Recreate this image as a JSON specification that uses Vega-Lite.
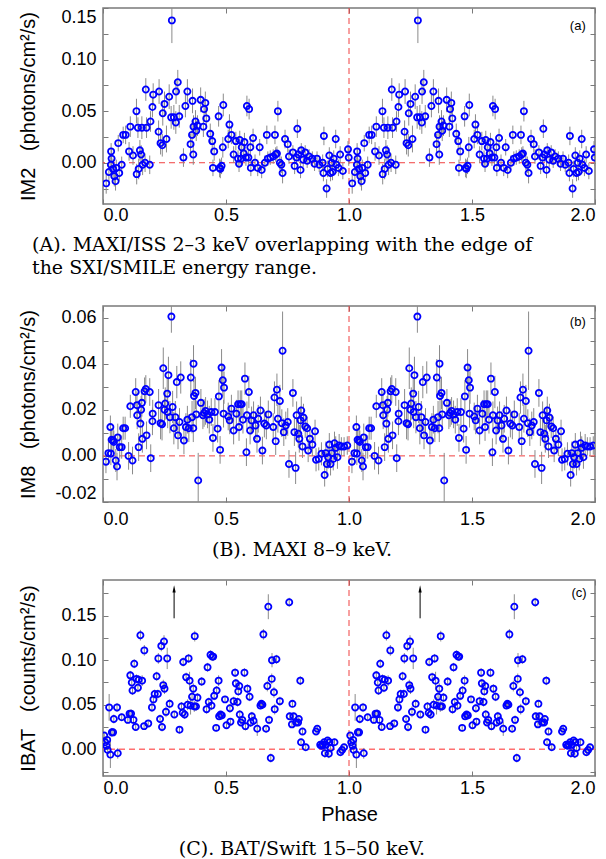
{
"$schema": "https://vega.github.io/schema/vega-lite/v6.json",
"padding": {"left": 18, "top": 6, "right": 5, "bottom": 0},
"background": "white",
"config": {
  "view": {"stroke": "#7a7a7a", "strokeWidth": 1.5},
  "axis": {"labelFont": "Liberation Sans", "labelFontSize": 18, "labelColor": "#000", "titleFont": "Liberation Sans", "titleFontSize": 20, "titleFontWeight": "normal", "titleColor": "#000", "grid": false, "domain": false, "tickColor": "#7a7a7a", "tickSize": -5, "tickWidth": 1},
  "title": {"font": "DejaVu Serif", "fontSize": 19, "fontWeight": "normal", "color": "#000"}
},
"datasets": {
"a": [
{"p":0.013,"v":-0.020,"e":0.010},{"p":0.024,"v":-0.009,"e":0.010},{"p":0.032,"v":-0.002,"e":0.009},{"p":0.035,"v":0.004,"e":0.009},{"p":0.033,"v":0.011,"e":0.008},{"p":0.041,"v":-0.006,"e":0.010},{"p":0.046,"v":-0.013,"e":0.010},{"p":0.051,"v":-0.018,"e":0.009},{"p":0.054,"v":-0.005,"e":0.008},{"p":0.066,"v":-0.010,"e":0.008},{"p":0.076,"v":-0.002,"e":0.008},{"p":0.062,"v":0.019,"e":0.008},{"p":0.082,"v":0.027,"e":0.008},{"p":0.092,"v":0.027,"e":0.009},{"p":0.111,"v":0.035,"e":0.010},{"p":0.106,"v":0.011,"e":0.009},{"p":0.122,"v":0.007,"e":0.009},{"p":0.136,"v":0.050,"e":0.012},{"p":0.137,"v":-0.011,"e":0.010},{"p":0.145,"v":-0.006,"e":0.010},{"p":0.142,"v":0.034,"e":0.010},{"p":0.150,"v":0.012,"e":0.010},{"p":0.155,"v":0.008,"e":0.009},{"p":0.158,"v":0.034,"e":0.011},{"p":0.161,"v":-0.002,"e":0.010},{"p":0.171,"v":0.000,"e":0.009},{"p":0.174,"v":0.071,"e":0.011},{"p":0.177,"v":0.034,"e":0.010},{"p":0.193,"v":0.040,"e":0.010},{"p":0.190,"v":-0.002,"e":0.009},{"p":0.201,"v":0.054,"e":0.010},{"p":0.204,"v":0.066,"e":0.011},{"p":0.228,"v":0.069,"e":0.012},{"p":0.226,"v":0.030,"e":0.011},{"p":0.234,"v":0.019,"e":0.011},{"p":0.243,"v":0.048,"e":0.012},{"p":0.241,"v":0.017,"e":0.011},{"p":0.250,"v":0.057,"e":0.012},{"p":0.258,"v":0.023,"e":0.013},{"p":0.269,"v":0.064,"e":0.012},{"p":0.277,"v":0.044,"e":0.011},{"p":0.280,"v":0.138,"e":0.022},{"p":0.288,"v":0.044,"e":0.012},{"p":0.296,"v":0.039,"e":0.011},{"p":0.297,"v":0.069,"e":0.012},{"p":0.304,"v":0.078,"e":0.012},{"p":0.310,"v":0.045,"e":0.011},{"p":0.327,"v":0.005,"e":0.009},{"p":0.335,"v":0.055,"e":0.011},{"p":0.343,"v":0.069,"e":0.012},{"p":0.356,"v":0.018,"e":0.010},{"p":0.362,"v":0.027,"e":0.011},{"p":0.364,"v":0.060,"e":0.012},{"p":0.367,"v":0.008,"e":0.010},{"p":0.368,"v":0.035,"e":0.011},{"p":0.376,"v":0.040,"e":0.011},{"p":0.379,"v":0.031,"e":0.010},{"p":0.384,"v":0.036,"e":0.010},{"p":0.397,"v":0.061,"e":0.012},{"p":0.408,"v":0.035,"e":0.010},{"p":0.411,"v":0.052,"e":0.011},{"p":0.416,"v":0.058,"e":0.011},{"p":0.420,"v":0.043,"e":0.010},{"p":0.436,"v":0.028,"e":0.010},{"p":0.444,"v":0.021,"e":0.010},{"p":0.447,"v":-0.005,"e":0.008},{"p":0.452,"v":0.011,"e":0.009},{"p":0.470,"v":0.045,"e":0.010},{"p":0.474,"v":-0.005,"e":0.009},{"p":0.477,"v":-0.006,"e":0.009},{"p":0.482,"v":-0.003,"e":0.008},{"p":0.487,"v":0.015,"e":0.010},{"p":0.489,"v":0.056,"e":0.011},{"p":0.509,"v":0.023,"e":0.009},{"p":0.514,"v":0.037,"e":0.010},{"p":0.522,"v":0.027,"e":0.009},{"p":0.531,"v":0.008,"e":0.008},{"p":0.540,"v":0.021,"e":0.009},{"p":0.549,"v":0.004,"e":0.008},{"p":0.553,"v":-0.001,"e":0.008},{"p":0.556,"v":0.022,"e":0.009},{"p":0.561,"v":0.004,"e":0.008},{"p":0.564,"v":0.015,"e":0.008},{"p":0.572,"v":0.009,"e":0.008},{"p":0.575,"v":0.020,"e":0.009},{"p":0.581,"v":0.005,"e":0.008},{"p":0.585,"v":0.055,"e":0.010},{"p":0.594,"v":0.052,"e":0.010},{"p":0.591,"v":0.005,"e":0.008},{"p":0.599,"v":0.015,"e":0.008},{"p":0.601,"v":-0.005,"e":0.008},{"p":0.610,"v":0.024,"e":0.009},{"p":0.618,"v":0.000,"e":0.008},{"p":0.629,"v":-0.005,"e":0.008},{"p":0.637,"v":0.015,"e":0.008},{"p":0.645,"v":-0.007,"e":0.008},{"p":0.658,"v":0.000,"e":0.007},{"p":0.666,"v":0.027,"e":0.009},{"p":0.670,"v":0.004,"e":0.007},{"p":0.680,"v":0.005,"e":0.007},{"p":0.692,"v":0.006,"e":0.007},{"p":0.699,"v":0.027,"e":0.009},{"p":0.702,"v":0.008,"e":0.007},{"p":0.707,"v":0.009,"e":0.007},{"p":0.711,"v":0.050,"e":0.010},{"p":0.719,"v":0.000,"e":0.007},{"p":0.725,"v":-0.002,"e":0.008},{"p":0.730,"v":-0.010,"e":0.010},{"p":0.740,"v":0.023,"e":0.009},{"p":0.751,"v":0.018,"e":0.008},{"p":0.756,"v":0.006,"e":0.007},{"p":0.772,"v":0.010,"e":0.007},{"p":0.779,"v":-0.003,"e":0.008},{"p":0.787,"v":0.005,"e":0.007},{"p":0.790,"v":0.033,"e":0.009},{"p":0.794,"v":0.008,"e":0.007},{"p":0.803,"v":-0.007,"e":0.008},{"p":0.806,"v":0.012,"e":0.007},{"p":0.814,"v":0.003,"e":0.007},{"p":0.822,"v":0.010,"e":0.007},{"p":0.830,"v":0.002,"e":0.007},{"p":0.838,"v":0.006,"e":0.007},{"p":0.851,"v":0.004,"e":0.007},{"p":0.860,"v":-0.001,"e":0.007},{"p":0.870,"v":0.004,"e":0.007},{"p":0.879,"v":-0.002,"e":0.007},{"p":0.893,"v":0.000,"e":0.008},{"p":0.898,"v":0.026,"e":0.009},{"p":0.896,"v":-0.010,"e":0.008},{"p":0.909,"v":-0.025,"e":0.009},{"p":0.913,"v":-0.006,"e":0.008},{"p":0.920,"v":0.007,"e":0.008},{"p":0.925,"v":-0.010,"e":0.008},{"p":0.930,"v":0.000,"e":0.008},{"p":0.933,"v":-0.009,"e":0.008},{"p":0.938,"v":0.004,"e":0.008},{"p":0.946,"v":0.023,"e":0.009},{"p":0.949,"v":-0.002,"e":0.008},{"p":0.957,"v":-0.005,"e":0.008},{"p":0.964,"v":0.008,"e":0.008},{"p":0.975,"v":-0.008,"e":0.008},{"p":0.996,"v":0.013,"e":0.008},{"p":0.999,"v":0.005,"e":0.008},
{"p":1.013,"v":-0.020,"e":0.010},{"p":1.024,"v":-0.009,"e":0.010},{"p":1.032,"v":-0.002,"e":0.009},{"p":1.035,"v":0.004,"e":0.009},{"p":1.033,"v":0.011,"e":0.008},{"p":1.041,"v":-0.006,"e":0.010},{"p":1.046,"v":-0.013,"e":0.010},{"p":1.051,"v":-0.018,"e":0.009},{"p":1.054,"v":-0.005,"e":0.008},{"p":1.066,"v":-0.010,"e":0.008},{"p":1.076,"v":-0.002,"e":0.008},{"p":1.062,"v":0.019,"e":0.008},{"p":1.082,"v":0.027,"e":0.008},{"p":1.092,"v":0.027,"e":0.009},{"p":1.111,"v":0.035,"e":0.010},{"p":1.106,"v":0.011,"e":0.009},{"p":1.122,"v":0.007,"e":0.009},{"p":1.136,"v":0.050,"e":0.012},{"p":1.137,"v":-0.011,"e":0.010},{"p":1.145,"v":-0.006,"e":0.010},{"p":1.142,"v":0.034,"e":0.010},{"p":1.150,"v":0.012,"e":0.010},{"p":1.155,"v":0.008,"e":0.009},{"p":1.158,"v":0.034,"e":0.011},{"p":1.161,"v":-0.002,"e":0.010},{"p":1.171,"v":0.000,"e":0.009},{"p":1.174,"v":0.071,"e":0.011},{"p":1.177,"v":0.034,"e":0.010},{"p":1.193,"v":0.040,"e":0.010},{"p":1.190,"v":-0.002,"e":0.009},{"p":1.201,"v":0.054,"e":0.010},{"p":1.204,"v":0.066,"e":0.011},{"p":1.228,"v":0.069,"e":0.012},{"p":1.226,"v":0.030,"e":0.011},{"p":1.234,"v":0.019,"e":0.011},{"p":1.243,"v":0.048,"e":0.012},{"p":1.241,"v":0.017,"e":0.011},{"p":1.250,"v":0.057,"e":0.012},{"p":1.258,"v":0.023,"e":0.013},{"p":1.269,"v":0.064,"e":0.012},{"p":1.277,"v":0.044,"e":0.011},{"p":1.280,"v":0.138,"e":0.022},{"p":1.288,"v":0.044,"e":0.012},{"p":1.296,"v":0.039,"e":0.011},{"p":1.297,"v":0.069,"e":0.012},{"p":1.304,"v":0.078,"e":0.012},{"p":1.310,"v":0.045,"e":0.011},{"p":1.327,"v":0.005,"e":0.009},{"p":1.335,"v":0.055,"e":0.011},{"p":1.343,"v":0.069,"e":0.012},{"p":1.356,"v":0.018,"e":0.010},{"p":1.362,"v":0.027,"e":0.011},{"p":1.364,"v":0.060,"e":0.012},{"p":1.367,"v":0.008,"e":0.010},{"p":1.368,"v":0.035,"e":0.011},{"p":1.376,"v":0.040,"e":0.011},{"p":1.379,"v":0.031,"e":0.010},{"p":1.384,"v":0.036,"e":0.010},{"p":1.397,"v":0.061,"e":0.012},{"p":1.408,"v":0.035,"e":0.010},{"p":1.411,"v":0.052,"e":0.011},{"p":1.416,"v":0.058,"e":0.011},{"p":1.420,"v":0.043,"e":0.010},{"p":1.436,"v":0.028,"e":0.010},{"p":1.444,"v":0.021,"e":0.010},{"p":1.447,"v":-0.005,"e":0.008},{"p":1.452,"v":0.011,"e":0.009},{"p":1.470,"v":0.045,"e":0.010},{"p":1.474,"v":-0.005,"e":0.009},{"p":1.477,"v":-0.006,"e":0.009},{"p":1.482,"v":-0.003,"e":0.008},{"p":1.487,"v":0.015,"e":0.010},{"p":1.489,"v":0.056,"e":0.011},{"p":1.509,"v":0.023,"e":0.009},{"p":1.514,"v":0.037,"e":0.010},{"p":1.522,"v":0.027,"e":0.009},{"p":1.531,"v":0.008,"e":0.008},{"p":1.540,"v":0.021,"e":0.009},{"p":1.549,"v":0.004,"e":0.008},{"p":1.553,"v":-0.001,"e":0.008},{"p":1.556,"v":0.022,"e":0.009},{"p":1.561,"v":0.004,"e":0.008},{"p":1.564,"v":0.015,"e":0.008},{"p":1.572,"v":0.009,"e":0.008},{"p":1.575,"v":0.020,"e":0.009},{"p":1.581,"v":0.005,"e":0.008},{"p":1.585,"v":0.055,"e":0.010},{"p":1.594,"v":0.052,"e":0.010},{"p":1.591,"v":0.005,"e":0.008},{"p":1.599,"v":0.015,"e":0.008},{"p":1.601,"v":-0.005,"e":0.008},{"p":1.610,"v":0.024,"e":0.009},{"p":1.618,"v":0.000,"e":0.008},{"p":1.629,"v":-0.005,"e":0.008},{"p":1.637,"v":0.015,"e":0.008},{"p":1.645,"v":-0.007,"e":0.008},{"p":1.658,"v":0.000,"e":0.007},{"p":1.666,"v":0.027,"e":0.009},{"p":1.670,"v":0.004,"e":0.007},{"p":1.680,"v":0.005,"e":0.007},{"p":1.692,"v":0.006,"e":0.007},{"p":1.699,"v":0.027,"e":0.009},{"p":1.702,"v":0.008,"e":0.007},{"p":1.707,"v":0.009,"e":0.007},{"p":1.711,"v":0.050,"e":0.010},{"p":1.719,"v":0.000,"e":0.007},{"p":1.725,"v":-0.002,"e":0.008},{"p":1.730,"v":-0.010,"e":0.010},{"p":1.740,"v":0.023,"e":0.009},{"p":1.751,"v":0.018,"e":0.008},{"p":1.756,"v":0.006,"e":0.007},{"p":1.772,"v":0.010,"e":0.007},{"p":1.779,"v":-0.003,"e":0.008},{"p":1.787,"v":0.005,"e":0.007},{"p":1.790,"v":0.033,"e":0.009},{"p":1.794,"v":0.008,"e":0.007},{"p":1.803,"v":-0.007,"e":0.008},{"p":1.806,"v":0.012,"e":0.007},{"p":1.814,"v":0.003,"e":0.007},{"p":1.822,"v":0.010,"e":0.007},{"p":1.830,"v":0.002,"e":0.007},{"p":1.838,"v":0.006,"e":0.007},{"p":1.851,"v":0.004,"e":0.007},{"p":1.860,"v":-0.001,"e":0.007},{"p":1.870,"v":0.004,"e":0.007},{"p":1.879,"v":-0.002,"e":0.007},{"p":1.893,"v":0.000,"e":0.008},{"p":1.898,"v":0.026,"e":0.009},{"p":1.896,"v":-0.010,"e":0.008},{"p":1.909,"v":-0.025,"e":0.009},{"p":1.913,"v":-0.006,"e":0.008},{"p":1.920,"v":0.007,"e":0.008},{"p":1.925,"v":-0.010,"e":0.008},{"p":1.930,"v":0.000,"e":0.008},{"p":1.933,"v":-0.009,"e":0.008},{"p":1.938,"v":0.004,"e":0.008},{"p":1.946,"v":0.023,"e":0.009},{"p":1.949,"v":-0.002,"e":0.008},{"p":1.957,"v":-0.005,"e":0.008},{"p":1.964,"v":0.008,"e":0.008},{"p":1.975,"v":-0.008,"e":0.008},{"p":1.996,"v":0.013,"e":0.008},{"p":1.999,"v":0.005,"e":0.008}
],
"b": [
{"p":0.012,"v":-0.0025,"e":0.005},{"p":0.022,"v":0.0012,"e":0.005},{"p":0.030,"v":0.0125,"e":0.005},{"p":0.032,"v":0.001,"e":0.005},{"p":0.035,"v":0.007,"e":0.005},{"p":0.041,"v":0.0067,"e":0.005},{"p":0.044,"v":0.006,"e":0.005},{"p":0.052,"v":-0.002,"e":0.005},{"p":0.057,"v":-0.0046,"e":0.006},{"p":0.060,"v":0.008,"e":0.006},{"p":0.068,"v":0.0038,"e":0.005},{"p":0.076,"v":0.0038,"e":0.005},{"p":0.082,"v":0.012,"e":0.005},{"p":0.090,"v":0.012,"e":0.005},{"p":0.104,"v":0.000,"e":0.006},{"p":0.111,"v":0.0215,"e":0.005},{"p":0.120,"v":-0.002,"e":0.006},{"p":0.133,"v":0.0277,"e":0.006},{"p":0.138,"v":0.022,"e":0.006},{"p":0.139,"v":0.0176,"e":0.006},{"p":0.145,"v":0.0038,"e":0.006},{"p":0.152,"v":0.014,"e":0.006},{"p":0.155,"v":0.020,"e":0.006},{"p":0.158,"v":0.023,"e":0.006},{"p":0.160,"v":0.0074,"e":0.006},{"p":0.169,"v":0.028,"e":0.006},{"p":0.174,"v":0.029,"e":0.006},{"p":0.177,"v":0.0089,"e":0.006},{"p":0.190,"v":0.0277,"e":0.006},{"p":0.194,"v":-0.001,"e":0.006},{"p":0.201,"v":0.015,"e":0.006},{"p":0.202,"v":0.0183,"e":0.006},{"p":0.226,"v":0.022,"e":0.007},{"p":0.234,"v":0.0142,"e":0.007},{"p":0.240,"v":0.0137,"e":0.007},{"p":0.245,"v":0.038,"e":0.009},{"p":0.250,"v":0.020,"e":0.007},{"p":0.253,"v":0.0227,"e":0.007},{"p":0.261,"v":0.027,"e":0.007},{"p":0.263,"v":0.019,"e":0.007},{"p":0.266,"v":0.035,"e":0.008},{"p":0.272,"v":0.0168,"e":0.007},{"p":0.278,"v":0.0604,"e":0.007},{"p":0.283,"v":0.0212,"e":0.007},{"p":0.288,"v":0.012,"e":0.007},{"p":0.294,"v":0.0168,"e":0.007},{"p":0.300,"v":0.032,"e":0.007},{"p":0.305,"v":0.0089,"e":0.006},{"p":0.311,"v":0.0147,"e":0.006},{"p":0.316,"v":0.034,"e":0.007},{"p":0.329,"v":0.0067,"e":0.006},{"p":0.337,"v":0.0125,"e":0.006},{"p":0.343,"v":0.0157,"e":0.006},{"p":0.349,"v":0.012,"e":0.006},{"p":0.357,"v":0.034,"e":0.008},{"p":0.362,"v":0.0168,"e":0.007},{"p":0.367,"v":0.012,"e":0.006},{"p":0.368,"v":0.040,"e":0.008},{"p":0.370,"v":0.026,"e":0.007},{"p":0.376,"v":0.0273,"e":0.007},{"p":0.379,"v":0.018,"e":0.006},{"p":0.387,"v":-0.0107,"e":0.012},{"p":0.398,"v":0.023,"e":0.006},{"p":0.406,"v":0.0176,"e":0.006},{"p":0.411,"v":0.0186,"e":0.006},{"p":0.417,"v":0.0195,"e":0.006},{"p":0.425,"v":0.018,"e":0.006},{"p":0.432,"v":0.0157,"e":0.006},{"p":0.440,"v":0.019,"e":0.006},{"p":0.447,"v":0.0078,"e":0.006},{"p":0.455,"v":0.019,"e":0.006},{"p":0.466,"v":0.0118,"e":0.006},{"p":0.471,"v":0.0258,"e":0.007},{"p":0.476,"v":0.0026,"e":0.006},{"p":0.482,"v":0.0383,"e":0.008},{"p":0.487,"v":0.0328,"e":0.007},{"p":0.492,"v":0.0296,"e":0.007},{"p":0.490,"v":0.0183,"e":0.006},{"p":0.509,"v":0.0171,"e":0.006},{"p":0.515,"v":0.0154,"e":0.006},{"p":0.522,"v":0.0205,"e":0.006},{"p":0.531,"v":0.011,"e":0.006},{"p":0.542,"v":0.0183,"e":0.006},{"p":0.549,"v":0.0224,"e":0.006},{"p":0.553,"v":0.0125,"e":0.006},{"p":0.558,"v":0.0224,"e":0.006},{"p":0.564,"v":0.0224,"e":0.006},{"p":0.569,"v":0.0157,"e":0.006},{"p":0.577,"v":0.0335,"e":0.007},{"p":0.585,"v":0.0176,"e":0.006},{"p":0.583,"v":0.0016,"e":0.006},{"p":0.593,"v":0.0277,"e":0.007},{"p":0.598,"v":0.011,"e":0.006},{"p":0.604,"v":0.0154,"e":0.006},{"p":0.612,"v":0.0176,"e":0.006},{"p":0.620,"v":0.0132,"e":0.006},{"p":0.626,"v":0.0074,"e":0.006},{"p":0.631,"v":0.0161,"e":0.006},{"p":0.640,"v":0.0197,"e":0.006},{"p":0.648,"v":0.0023,"e":0.006},{"p":0.656,"v":0.014,"e":0.006},{"p":0.664,"v":0.0132,"e":0.006},{"p":0.672,"v":0.018,"e":0.006},{"p":0.692,"v":0.0125,"e":0.006},{"p":0.697,"v":0.0253,"e":0.007},{"p":0.702,"v":0.0064,"e":0.006},{"p":0.707,"v":0.0287,"e":0.007},{"p":0.711,"v":0.0161,"e":0.006},{"p":0.719,"v":0.0238,"e":0.007},{"p":0.727,"v":0.0142,"e":0.006},{"p":0.730,"v":0.0456,"e":0.017},{"p":0.735,"v":0.0103,"e":0.006},{"p":0.743,"v":0.0132,"e":0.006},{"p":0.751,"v":0.0147,"e":0.006},{"p":0.756,"v":-0.0035,"e":0.006},{"p":0.772,"v":0.0273,"e":0.006},{"p":0.778,"v":0.0103,"e":0.006},{"p":0.783,"v":-0.0052,"e":0.007},{"p":0.787,"v":0.0176,"e":0.006},{"p":0.794,"v":0.0096,"e":0.006},{"p":0.798,"v":0.0074,"e":0.006},{"p":0.803,"v":0.0154,"e":0.006},{"p":0.806,"v":0.0197,"e":0.006},{"p":0.811,"v":0.0041,"e":0.005},{"p":0.815,"v":0.0166,"e":0.006},{"p":0.822,"v":0.0128,"e":0.005},{"p":0.830,"v":0.012,"e":0.005},{"p":0.834,"v":0.0023,"e":0.005},{"p":0.841,"v":0.0074,"e":0.005},{"p":0.851,"v":0.0049,"e":0.005},{"p":0.862,"v":0.0107,"e":0.005},{"p":0.866,"v":-0.0017,"e":0.005},{"p":0.877,"v":-0.0013,"e":0.005},{"p":0.888,"v":0.0009,"e":0.005},{"p":0.901,"v":-0.0083,"e":0.005},{"p":0.906,"v":0.0012,"e":0.005},{"p":0.910,"v":-0.0035,"e":0.005},{"p":0.915,"v":-0.0006,"e":0.005},{"p":0.920,"v":0.0049,"e":0.005},{"p":0.925,"v":-0.0035,"e":0.005},{"p":0.930,"v":0.0012,"e":0.005},{"p":0.936,"v":-0.0013,"e":0.005},{"p":0.941,"v":0.0055,"e":0.005},{"p":0.946,"v":0.0035,"e":0.005},{"p":0.953,"v":-0.0006,"e":0.005},{"p":0.960,"v":0.0045,"e":0.005},{"p":0.969,"v":0.0041,"e":0.004},{"p":0.980,"v":0.0041,"e":0.004},{"p":0.993,"v":0.0045,"e":0.004},
{"p":1.012,"v":-0.0025,"e":0.005},{"p":1.022,"v":0.0012,"e":0.005},{"p":1.030,"v":0.0125,"e":0.005},{"p":1.032,"v":0.001,"e":0.005},{"p":1.035,"v":0.007,"e":0.005},{"p":1.041,"v":0.0067,"e":0.005},{"p":1.044,"v":0.006,"e":0.005},{"p":1.052,"v":-0.002,"e":0.005},{"p":1.057,"v":-0.0046,"e":0.006},{"p":1.060,"v":0.008,"e":0.006},{"p":1.068,"v":0.0038,"e":0.005},{"p":1.076,"v":0.0038,"e":0.005},{"p":1.082,"v":0.012,"e":0.005},{"p":1.090,"v":0.012,"e":0.005},{"p":1.104,"v":0.000,"e":0.006},{"p":1.111,"v":0.0215,"e":0.005},{"p":1.120,"v":-0.002,"e":0.006},{"p":1.133,"v":0.0277,"e":0.006},{"p":1.138,"v":0.022,"e":0.006},{"p":1.139,"v":0.0176,"e":0.006},{"p":1.145,"v":0.0038,"e":0.006},{"p":1.152,"v":0.014,"e":0.006},{"p":1.155,"v":0.020,"e":0.006},{"p":1.158,"v":0.023,"e":0.006},{"p":1.160,"v":0.0074,"e":0.006},{"p":1.169,"v":0.028,"e":0.006},{"p":1.174,"v":0.029,"e":0.006},{"p":1.177,"v":0.0089,"e":0.006},{"p":1.190,"v":0.0277,"e":0.006},{"p":1.194,"v":-0.001,"e":0.006},{"p":1.201,"v":0.015,"e":0.006},{"p":1.202,"v":0.0183,"e":0.006},{"p":1.226,"v":0.022,"e":0.007},{"p":1.234,"v":0.0142,"e":0.007},{"p":1.240,"v":0.0137,"e":0.007},{"p":1.245,"v":0.038,"e":0.009},{"p":1.250,"v":0.020,"e":0.007},{"p":1.253,"v":0.0227,"e":0.007},{"p":1.261,"v":0.027,"e":0.007},{"p":1.263,"v":0.019,"e":0.007},{"p":1.266,"v":0.035,"e":0.008},{"p":1.272,"v":0.0168,"e":0.007},{"p":1.278,"v":0.0604,"e":0.007},{"p":1.283,"v":0.0212,"e":0.007},{"p":1.288,"v":0.012,"e":0.007},{"p":1.294,"v":0.0168,"e":0.007},{"p":1.300,"v":0.032,"e":0.007},{"p":1.305,"v":0.0089,"e":0.006},{"p":1.311,"v":0.0147,"e":0.006},{"p":1.316,"v":0.034,"e":0.007},{"p":1.329,"v":0.0067,"e":0.006},{"p":1.337,"v":0.0125,"e":0.006},{"p":1.343,"v":0.0157,"e":0.006},{"p":1.349,"v":0.012,"e":0.006},{"p":1.357,"v":0.034,"e":0.008},{"p":1.362,"v":0.0168,"e":0.007},{"p":1.367,"v":0.012,"e":0.006},{"p":1.368,"v":0.040,"e":0.008},{"p":1.370,"v":0.026,"e":0.007},{"p":1.376,"v":0.0273,"e":0.007},{"p":1.379,"v":0.018,"e":0.006},{"p":1.387,"v":-0.0107,"e":0.012},{"p":1.398,"v":0.023,"e":0.006},{"p":1.406,"v":0.0176,"e":0.006},{"p":1.411,"v":0.0186,"e":0.006},{"p":1.417,"v":0.0195,"e":0.006},{"p":1.425,"v":0.018,"e":0.006},{"p":1.432,"v":0.0157,"e":0.006},{"p":1.440,"v":0.019,"e":0.006},{"p":1.447,"v":0.0078,"e":0.006},{"p":1.455,"v":0.019,"e":0.006},{"p":1.466,"v":0.0118,"e":0.006},{"p":1.471,"v":0.0258,"e":0.007},{"p":1.476,"v":0.0026,"e":0.006},{"p":1.482,"v":0.0383,"e":0.008},{"p":1.487,"v":0.0328,"e":0.007},{"p":1.492,"v":0.0296,"e":0.007},{"p":1.490,"v":0.0183,"e":0.006},{"p":1.509,"v":0.0171,"e":0.006},{"p":1.515,"v":0.0154,"e":0.006},{"p":1.522,"v":0.0205,"e":0.006},{"p":1.531,"v":0.011,"e":0.006},{"p":1.542,"v":0.0183,"e":0.006},{"p":1.549,"v":0.0224,"e":0.006},{"p":1.553,"v":0.0125,"e":0.006},{"p":1.558,"v":0.0224,"e":0.006},{"p":1.564,"v":0.0224,"e":0.006},{"p":1.569,"v":0.0157,"e":0.006},{"p":1.577,"v":0.0335,"e":0.007},{"p":1.585,"v":0.0176,"e":0.006},{"p":1.583,"v":0.0016,"e":0.006},{"p":1.593,"v":0.0277,"e":0.007},{"p":1.598,"v":0.011,"e":0.006},{"p":1.604,"v":0.0154,"e":0.006},{"p":1.612,"v":0.0176,"e":0.006},{"p":1.620,"v":0.0132,"e":0.006},{"p":1.626,"v":0.0074,"e":0.006},{"p":1.631,"v":0.0161,"e":0.006},{"p":1.640,"v":0.0197,"e":0.006},{"p":1.648,"v":0.0023,"e":0.006},{"p":1.656,"v":0.014,"e":0.006},{"p":1.664,"v":0.0132,"e":0.006},{"p":1.672,"v":0.018,"e":0.006},{"p":1.692,"v":0.0125,"e":0.006},{"p":1.697,"v":0.0253,"e":0.007},{"p":1.702,"v":0.0064,"e":0.006},{"p":1.707,"v":0.0287,"e":0.007},{"p":1.711,"v":0.0161,"e":0.006},{"p":1.719,"v":0.0238,"e":0.007},{"p":1.727,"v":0.0142,"e":0.006},{"p":1.730,"v":0.0456,"e":0.017},{"p":1.735,"v":0.0103,"e":0.006},{"p":1.743,"v":0.0132,"e":0.006},{"p":1.751,"v":0.0147,"e":0.006},{"p":1.756,"v":-0.0035,"e":0.006},{"p":1.772,"v":0.0273,"e":0.006},{"p":1.778,"v":0.0103,"e":0.006},{"p":1.783,"v":-0.0052,"e":0.007},{"p":1.787,"v":0.0176,"e":0.006},{"p":1.794,"v":0.0096,"e":0.006},{"p":1.798,"v":0.0074,"e":0.006},{"p":1.803,"v":0.0154,"e":0.006},{"p":1.806,"v":0.0197,"e":0.006},{"p":1.811,"v":0.0041,"e":0.005},{"p":1.815,"v":0.0166,"e":0.006},{"p":1.822,"v":0.0128,"e":0.005},{"p":1.830,"v":0.012,"e":0.005},{"p":1.834,"v":0.0023,"e":0.005},{"p":1.841,"v":0.0074,"e":0.005},{"p":1.851,"v":0.0049,"e":0.005},{"p":1.862,"v":0.0107,"e":0.005},{"p":1.866,"v":-0.0017,"e":0.005},{"p":1.877,"v":-0.0013,"e":0.005},{"p":1.888,"v":0.0009,"e":0.005},{"p":1.901,"v":-0.0083,"e":0.005},{"p":1.906,"v":0.0012,"e":0.005},{"p":1.910,"v":-0.0035,"e":0.005},{"p":1.915,"v":-0.0006,"e":0.005},{"p":1.920,"v":0.0049,"e":0.005},{"p":1.925,"v":-0.0035,"e":0.005},{"p":1.930,"v":0.0012,"e":0.005},{"p":1.936,"v":-0.0013,"e":0.005},{"p":1.941,"v":0.0055,"e":0.005},{"p":1.946,"v":0.0035,"e":0.005},{"p":1.953,"v":-0.0006,"e":0.005},{"p":1.960,"v":0.0045,"e":0.005},{"p":1.969,"v":0.0041,"e":0.004},{"p":1.980,"v":0.0041,"e":0.004},{"p":1.993,"v":0.0045,"e":0.004}
],
"c": [
{"p":0.005,"v":0.0154,"e":0.004},{"p":0.009,"v":0.0079,"e":0.004},{"p":0.014,"v":0.0041,"e":0.004},{"p":0.017,"v":0.0105,"e":0.005},{"p":0.019,"v":-0.0008,"e":0.005},{"p":0.025,"v":0.047,"e":0.015},{"p":0.030,"v":-0.006,"e":0.015},{"p":0.036,"v":0.019,"e":0.005},{"p":0.041,"v":0.019,"e":0.004},{"p":0.044,"v":0.034,"e":0.005},{"p":0.057,"v":0.047,"e":0.005},{"p":0.060,"v":-0.0045,"e":0.006},{"p":0.076,"v":0.036,"e":0.004},{"p":0.101,"v":0.033,"e":0.004},{"p":0.108,"v":0.040,"e":0.004},{"p":0.111,"v":0.083,"e":0.005},{"p":0.114,"v":0.040,"e":0.005},{"p":0.117,"v":0.075,"e":0.005},{"p":0.120,"v":0.066,"e":0.005},{"p":0.124,"v":0.033,"e":0.005},{"p":0.127,"v":0.096,"e":0.005},{"p":0.133,"v":0.025,"e":0.004},{"p":0.136,"v":0.079,"e":0.005},{"p":0.142,"v":0.069,"e":0.005},{"p":0.145,"v":0.078,"e":0.005},{"p":0.152,"v":0.128,"e":0.006},{"p":0.159,"v":0.077,"e":0.006},{"p":0.168,"v":0.111,"e":0.006},{"p":0.167,"v":0.026,"e":0.004},{"p":0.184,"v":0.029,"e":0.004},{"p":0.199,"v":0.047,"e":0.005},{"p":0.205,"v":0.056,"e":0.005},{"p":0.210,"v":0.062,"e":0.005},{"p":0.218,"v":0.082,"e":0.005},{"p":0.223,"v":0.062,"e":0.005},{"p":0.225,"v":0.102,"e":0.006},{"p":0.232,"v":0.034,"e":0.005},{"p":0.237,"v":0.116,"e":0.006},{"p":0.240,"v":0.025,"e":0.005},{"p":0.245,"v":0.072,"e":0.006},{"p":0.248,"v":0.121,"e":0.007},{"p":0.250,"v":0.068,"e":0.006},{"p":0.256,"v":0.042,"e":0.006},{"p":0.261,"v":0.102,"e":0.012},{"p":0.271,"v":0.051,"e":0.005},{"p":0.290,"v":0.039,"e":0.004},{"p":0.311,"v":0.022,"e":0.004},{"p":0.319,"v":0.048,"e":0.005},{"p":0.324,"v":0.041,"e":0.005},{"p":0.326,"v":0.098,"e":0.005},{"p":0.332,"v":0.039,"e":0.005},{"p":0.338,"v":0.081,"e":0.005},{"p":0.344,"v":0.050,"e":0.006},{"p":0.348,"v":0.102,"e":0.005},{"p":0.352,"v":0.077,"e":0.010},{"p":0.356,"v":0.049,"e":0.010},{"p":0.362,"v":0.059,"e":0.006},{"p":0.367,"v":0.068,"e":0.006},{"p":0.371,"v":0.048,"e":0.006},{"p":0.373,"v":0.127,"e":0.006},{"p":0.378,"v":0.048,"e":0.005},{"p":0.384,"v":0.058,"e":0.005},{"p":0.401,"v":0.076,"e":0.005},{"p":0.421,"v":0.045,"e":0.005},{"p":0.425,"v":0.092,"e":0.005},{"p":0.430,"v":0.053,"e":0.005},{"p":0.437,"v":0.106,"e":0.005},{"p":0.441,"v":0.049,"e":0.005},{"p":0.444,"v":0.104,"e":0.005},{"p":0.448,"v":0.104,"e":0.005},{"p":0.452,"v":0.060,"e":0.005},{"p":0.460,"v":0.024,"e":0.004},{"p":0.462,"v":0.066,"e":0.005},{"p":0.470,"v":0.077,"e":0.006},{"p":0.472,"v":0.037,"e":0.004},{"p":0.478,"v":0.039,"e":0.004},{"p":0.483,"v":0.038,"e":0.004},{"p":0.496,"v":0.056,"e":0.004},{"p":0.502,"v":0.027,"e":0.004},{"p":0.516,"v":0.046,"e":0.005},{"p":0.518,"v":0.031,"e":0.004},{"p":0.531,"v":0.054,"e":0.005},{"p":0.537,"v":0.086,"e":0.005},{"p":0.540,"v":0.074,"e":0.005},{"p":0.547,"v":0.053,"e":0.005},{"p":0.550,"v":0.065,"e":0.005},{"p":0.554,"v":0.071,"e":0.005},{"p":0.556,"v":0.039,"e":0.005},{"p":0.561,"v":0.030,"e":0.004},{"p":0.566,"v":0.033,"e":0.004},{"p":0.575,"v":0.086,"e":0.005},{"p":0.579,"v":0.026,"e":0.005},{"p":0.587,"v":0.068,"e":0.005},{"p":0.596,"v":0.059,"e":0.005},{"p":0.600,"v":0.030,"e":0.005},{"p":0.605,"v":0.037,"e":0.005},{"p":0.612,"v":0.032,"e":0.005},{"p":0.627,"v":0.023,"e":0.008},{"p":0.640,"v":0.049,"e":0.004},{"p":0.644,"v":0.051,"e":0.004},{"p":0.648,"v":0.050,"e":0.004},{"p":0.652,"v":0.129,"e":0.006},{"p":0.663,"v":0.023,"e":0.004},{"p":0.668,"v":0.071,"e":0.006},{"p":0.672,"v":0.160,"e":0.014},{"p":0.675,"v":0.033,"e":0.005},{"p":0.682,"v":-0.0098,"e":0.005},{"p":0.686,"v":0.079,"e":0.006},{"p":0.687,"v":0.100,"e":0.008},{"p":0.695,"v":0.064,"e":0.006},{"p":0.698,"v":0.045,"e":0.006},{"p":0.705,"v":0.101,"e":0.005},{"p":0.719,"v":0.054,"e":0.005},{"p":0.757,"v":0.165,"e":0.005},{"p":0.759,"v":0.037,"e":0.004},{"p":0.770,"v":0.051,"e":0.004},{"p":0.768,"v":0.028,"e":0.004},{"p":0.775,"v":0.037,"e":0.004},{"p":0.785,"v":0.030,"e":0.004},{"p":0.793,"v":0.030,"e":0.004},{"p":0.796,"v":0.034,"e":0.004},{"p":0.802,"v":0.077,"e":0.005},{"p":0.805,"v":0.0079,"e":0.004},{"p":0.811,"v":0.020,"e":0.004},{"p":0.824,"v":0.0023,"e":0.004},{"p":0.866,"v":0.020,"e":0.004},{"p":0.871,"v":0.023,"e":0.004},{"p":0.883,"v":0.005,"e":0.004},{"p":0.889,"v":0.004,"e":0.004},{"p":0.894,"v":0.005,"e":0.004},{"p":0.899,"v":0.0079,"e":0.004},{"p":0.902,"v":-0.0045,"e":0.005},{"p":0.906,"v":0.005,"e":0.004},{"p":0.913,"v":0.0098,"e":0.004},{"p":0.918,"v":-0.005,"e":0.005},{"p":0.921,"v":0.0079,"e":0.004},{"p":0.925,"v":0.0015,"e":0.004},{"p":0.941,"v":0.0079,"e":0.004},{"p":0.965,"v":-0.0034,"e":0.004},{"p":0.972,"v":-0.0008,"e":0.004},{"p":0.980,"v":0.0023,"e":0.004},
{"p":1.005,"v":0.0154,"e":0.004},{"p":1.009,"v":0.0079,"e":0.004},{"p":1.014,"v":0.0041,"e":0.004},{"p":1.017,"v":0.0105,"e":0.005},{"p":1.019,"v":-0.0008,"e":0.005},{"p":1.025,"v":0.047,"e":0.015},{"p":1.030,"v":-0.006,"e":0.015},{"p":1.036,"v":0.019,"e":0.005},{"p":1.041,"v":0.019,"e":0.004},{"p":1.044,"v":0.034,"e":0.005},{"p":1.057,"v":0.047,"e":0.005},{"p":1.060,"v":-0.0045,"e":0.006},{"p":1.076,"v":0.036,"e":0.004},{"p":1.101,"v":0.033,"e":0.004},{"p":1.108,"v":0.040,"e":0.004},{"p":1.111,"v":0.083,"e":0.005},{"p":1.114,"v":0.040,"e":0.005},{"p":1.117,"v":0.075,"e":0.005},{"p":1.120,"v":0.066,"e":0.005},{"p":1.124,"v":0.033,"e":0.005},{"p":1.127,"v":0.096,"e":0.005},{"p":1.133,"v":0.025,"e":0.004},{"p":1.136,"v":0.079,"e":0.005},{"p":1.142,"v":0.069,"e":0.005},{"p":1.145,"v":0.078,"e":0.005},{"p":1.152,"v":0.128,"e":0.006},{"p":1.159,"v":0.077,"e":0.006},{"p":1.168,"v":0.111,"e":0.006},{"p":1.167,"v":0.026,"e":0.004},{"p":1.184,"v":0.029,"e":0.004},{"p":1.199,"v":0.047,"e":0.005},{"p":1.205,"v":0.056,"e":0.005},{"p":1.210,"v":0.062,"e":0.005},{"p":1.218,"v":0.082,"e":0.005},{"p":1.223,"v":0.062,"e":0.005},{"p":1.225,"v":0.102,"e":0.006},{"p":1.232,"v":0.034,"e":0.005},{"p":1.237,"v":0.116,"e":0.006},{"p":1.240,"v":0.025,"e":0.005},{"p":1.245,"v":0.072,"e":0.006},{"p":1.248,"v":0.121,"e":0.007},{"p":1.250,"v":0.068,"e":0.006},{"p":1.256,"v":0.042,"e":0.006},{"p":1.261,"v":0.102,"e":0.012},{"p":1.271,"v":0.051,"e":0.005},{"p":1.290,"v":0.039,"e":0.004},{"p":1.311,"v":0.022,"e":0.004},{"p":1.319,"v":0.048,"e":0.005},{"p":1.324,"v":0.041,"e":0.005},{"p":1.326,"v":0.098,"e":0.005},{"p":1.332,"v":0.039,"e":0.005},{"p":1.338,"v":0.081,"e":0.005},{"p":1.344,"v":0.050,"e":0.006},{"p":1.348,"v":0.102,"e":0.005},{"p":1.352,"v":0.077,"e":0.010},{"p":1.356,"v":0.049,"e":0.010},{"p":1.362,"v":0.059,"e":0.006},{"p":1.367,"v":0.068,"e":0.006},{"p":1.371,"v":0.048,"e":0.006},{"p":1.373,"v":0.127,"e":0.006},{"p":1.378,"v":0.048,"e":0.005},{"p":1.384,"v":0.058,"e":0.005},{"p":1.401,"v":0.076,"e":0.005},{"p":1.421,"v":0.045,"e":0.005},{"p":1.425,"v":0.092,"e":0.005},{"p":1.430,"v":0.053,"e":0.005},{"p":1.437,"v":0.106,"e":0.005},{"p":1.441,"v":0.049,"e":0.005},{"p":1.444,"v":0.104,"e":0.005},{"p":1.448,"v":0.104,"e":0.005},{"p":1.452,"v":0.060,"e":0.005},{"p":1.460,"v":0.024,"e":0.004},{"p":1.462,"v":0.066,"e":0.005},{"p":1.470,"v":0.077,"e":0.006},{"p":1.472,"v":0.037,"e":0.004},{"p":1.478,"v":0.039,"e":0.004},{"p":1.483,"v":0.038,"e":0.004},{"p":1.496,"v":0.056,"e":0.004},{"p":1.502,"v":0.027,"e":0.004},{"p":1.516,"v":0.046,"e":0.005},{"p":1.518,"v":0.031,"e":0.004},{"p":1.531,"v":0.054,"e":0.005},{"p":1.537,"v":0.086,"e":0.005},{"p":1.540,"v":0.074,"e":0.005},{"p":1.547,"v":0.053,"e":0.005},{"p":1.550,"v":0.065,"e":0.005},{"p":1.554,"v":0.071,"e":0.005},{"p":1.556,"v":0.039,"e":0.005},{"p":1.561,"v":0.030,"e":0.004},{"p":1.566,"v":0.033,"e":0.004},{"p":1.575,"v":0.086,"e":0.005},{"p":1.579,"v":0.026,"e":0.005},{"p":1.587,"v":0.068,"e":0.005},{"p":1.596,"v":0.059,"e":0.005},{"p":1.600,"v":0.030,"e":0.005},{"p":1.605,"v":0.037,"e":0.005},{"p":1.612,"v":0.032,"e":0.005},{"p":1.627,"v":0.023,"e":0.008},{"p":1.640,"v":0.049,"e":0.004},{"p":1.644,"v":0.051,"e":0.004},{"p":1.648,"v":0.050,"e":0.004},{"p":1.652,"v":0.129,"e":0.006},{"p":1.663,"v":0.023,"e":0.004},{"p":1.668,"v":0.071,"e":0.006},{"p":1.672,"v":0.160,"e":0.014},{"p":1.675,"v":0.033,"e":0.005},{"p":1.682,"v":-0.0098,"e":0.005},{"p":1.686,"v":0.079,"e":0.006},{"p":1.687,"v":0.100,"e":0.008},{"p":1.695,"v":0.064,"e":0.006},{"p":1.698,"v":0.045,"e":0.006},{"p":1.705,"v":0.101,"e":0.005},{"p":1.719,"v":0.054,"e":0.005},{"p":1.757,"v":0.165,"e":0.005},{"p":1.759,"v":0.037,"e":0.004},{"p":1.770,"v":0.051,"e":0.004},{"p":1.768,"v":0.028,"e":0.004},{"p":1.775,"v":0.037,"e":0.004},{"p":1.785,"v":0.030,"e":0.004},{"p":1.793,"v":0.030,"e":0.004},{"p":1.796,"v":0.034,"e":0.004},{"p":1.802,"v":0.077,"e":0.005},{"p":1.805,"v":0.0079,"e":0.004},{"p":1.811,"v":0.020,"e":0.004},{"p":1.824,"v":0.0023,"e":0.004},{"p":1.866,"v":0.020,"e":0.004},{"p":1.871,"v":0.023,"e":0.004},{"p":1.883,"v":0.005,"e":0.004},{"p":1.889,"v":0.004,"e":0.004},{"p":1.894,"v":0.005,"e":0.004},{"p":1.899,"v":0.0079,"e":0.004},{"p":1.902,"v":-0.0045,"e":0.005},{"p":1.906,"v":0.005,"e":0.004},{"p":1.913,"v":0.0098,"e":0.004},{"p":1.918,"v":-0.005,"e":0.005},{"p":1.921,"v":0.0079,"e":0.004},{"p":1.925,"v":0.0015,"e":0.004},{"p":1.941,"v":0.0079,"e":0.004},{"p":1.965,"v":-0.0034,"e":0.004},{"p":1.972,"v":-0.0008,"e":0.004},{"p":1.980,"v":0.0023,"e":0.004}
]
},
"spacing": 25,
"vconcat": [
{
  "width": 492, "height": 196,
  "title": {"text": ["(A).  MAXI/ISS 2–3 keV overlapping with the edge of", "the SXI/SMILE energy range."], "orient": "bottom", "anchor": "start", "align": "left", "frame": "group", "dx": -71, "lineHeight": 23, "offset": 12},
  "resolve": {"axis": {"x": "independent", "y": "independent"}},
  "layer": [
    {"data": {"values": [{"p": 1}]}, "mark": {"type": "rule", "color": "#f04040", "strokeDash": [6, 4], "strokeWidth": 1},
     "encoding": {"x": {"field": "p", "type": "quantitative", "scale": {"domain": [0, 2], "nice": false, "zero": false},
                        "axis": {"orient": "top", "values": [0, 0.5, 1, 1.5, 2], "labels": false, "title": null}}}},
    {"data": {"values": [{"v": 0}]}, "mark": {"type": "rule", "color": "#f04040", "strokeDash": [6, 4], "strokeWidth": 1},
     "encoding": {"y": {"field": "v", "type": "quantitative", "scale": {"domain": [-0.04, 0.15], "nice": false, "zero": false},
                        "axis": {"orient": "right", "values": [-0.025, 0, 0.025, 0.05, 0.075, 0.1, 0.125, 0.15], "labels": false, "title": null}}}},
    {"data": {"name": "a"}, "mark": {"type": "errorbar", "color": "#8a8a8a", "thickness": 1, "clip": true},
     "encoding": {"x": {"field": "p", "type": "quantitative", "scale": {"domain": [0, 2], "nice": false, "zero": false}, "axis": null},
                  "y": {"field": "v", "type": "quantitative", "scale": {"domain": [-0.04, 0.15], "nice": false, "zero": false}, "axis": null},
                  "yError": {"field": "e"}}},
    {"data": {"name": "a"}, "mark": {"type": "point", "filled": false, "color": "#0000ff", "strokeWidth": 1.8, "size": 38, "opacity": 1, "clip": true},
     "encoding": {"x": {"field": "p", "type": "quantitative", "scale": {"domain": [0, 2], "nice": false, "zero": false},
                        "axis": {"values": [0, 0.5, 1, 1.5, 2], "format": ".1f", "title": null, "labelFlush": true, "labelPadding": 7}},
                  "y": {"field": "v", "type": "quantitative", "scale": {"domain": [-0.04, 0.15], "nice": false, "zero": false},
                        "axis": {"values": [-0.025, 0, 0.025, 0.05, 0.075, 0.1, 0.125, 0.15], "labelExpr": "abs(datum.value*20 - round(datum.value*20)) < 0.000001 ? format(datum.value, '.2f') : ''", "labelFlush": true, "labelPadding": 12, "titlePadding": 22, "title": "IM2\u00a0\u00a0\u00a0(photons/cm²/s)"}}}},
    {"data": {"values": [{"p": 1.93, "v": 0.133, "t": "(a)"}]}, "mark": {"type": "text", "font": "Liberation Sans", "fontSize": 13, "color": "#000"},
     "encoding": {"x": {"field": "p", "type": "quantitative", "scale": {"domain": [0, 2], "nice": false, "zero": false}, "axis": null},
                  "y": {"field": "v", "type": "quantitative", "scale": {"domain": [-0.04, 0.15], "nice": false, "zero": false}, "axis": null},
                  "text": {"field": "t"}}}
  ]
},
{
  "spacing": 17,
  "vconcat": [
  {
    "width": 492, "height": 196,
    "title": {"text": "(B).  MAXI 8–9 keV.", "orient": "bottom", "anchor": "middle", "frame": "group", "dx": -47, "offset": 13},
    "resolve": {"axis": {"x": "independent", "y": "independent"}},
    "layer": [
      {"data": {"values": [{"p": 1}]}, "mark": {"type": "rule", "color": "#f04040", "strokeDash": [6, 4], "strokeWidth": 1},
       "encoding": {"x": {"field": "p", "type": "quantitative", "scale": {"domain": [0, 2], "nice": false, "zero": false},
                          "axis": {"orient": "top", "values": [0, 0.5, 1, 1.5, 2], "labels": false, "title": null}}}},
      {"data": {"values": [{"v": 0}]}, "mark": {"type": "rule", "color": "#f04040", "strokeDash": [6, 4], "strokeWidth": 1},
       "encoding": {"y": {"field": "v", "type": "quantitative", "scale": {"domain": [-0.02, 0.065], "nice": false, "zero": false},
                          "axis": {"orient": "right", "values": [-0.02, -0.01, 0, 0.01, 0.02, 0.03, 0.04, 0.05, 0.06], "labels": false, "title": null}}}},
      {"data": {"name": "b"}, "mark": {"type": "errorbar", "color": "#8a8a8a", "thickness": 1, "clip": true},
       "encoding": {"x": {"field": "p", "type": "quantitative", "scale": {"domain": [0, 2], "nice": false, "zero": false}, "axis": null},
                    "y": {"field": "v", "type": "quantitative", "scale": {"domain": [-0.02, 0.065], "nice": false, "zero": false}, "axis": null},
                    "yError": {"field": "e"}}},
      {"data": {"name": "b"}, "mark": {"type": "point", "filled": false, "color": "#0000ff", "strokeWidth": 1.8, "size": 38, "opacity": 1, "clip": true},
       "encoding": {"x": {"field": "p", "type": "quantitative", "scale": {"domain": [0, 2], "nice": false, "zero": false},
                          "axis": {"values": [0, 0.5, 1, 1.5, 2], "format": ".1f", "title": null, "labelFlush": true, "labelPadding": 13}},
                    "y": {"field": "v", "type": "quantitative", "scale": {"domain": [-0.02, 0.065], "nice": false, "zero": false},
                          "axis": {"values": [-0.02, -0.01, 0, 0.01, 0.02, 0.03, 0.04, 0.05, 0.06], "labelExpr": "abs(datum.value*50 - round(datum.value*50)) < 0.000001 ? replace(format(datum.value, '.2f'), '\u2212', '-') : ''", "labelFlush": true, "labelPadding": 12, "titlePadding": 16, "title": "IM8\u00a0\u00a0\u00a0(photons/cm²/s)"}}}},
      {"data": {"values": [{"p": 1.93, "v": 0.058, "t": "(b)"}]}, "mark": {"type": "text", "font": "Liberation Sans", "fontSize": 13, "color": "#000"},
       "encoding": {"x": {"field": "p", "type": "quantitative", "scale": {"domain": [0, 2], "nice": false, "zero": false}, "axis": null},
                    "y": {"field": "v", "type": "quantitative", "scale": {"domain": [-0.02, 0.065], "nice": false, "zero": false}, "axis": null},
                    "text": {"field": "t"}}}
    ]
  },
  {
    "width": 492, "height": 196,
    "title": {"text": "(C).  BAT/Swift 15–50 keV.", "orient": "bottom", "anchor": "middle", "frame": "group", "dx": -47, "offset": 16},
    "resolve": {"axis": {"x": "independent", "y": "independent"}},
    "layer": [
      {"data": {"values": [{"p": 1}]}, "mark": {"type": "rule", "color": "#f04040", "strokeDash": [6, 4], "strokeWidth": 1},
       "encoding": {"x": {"field": "p", "type": "quantitative", "scale": {"domain": [0, 2], "nice": false, "zero": false},
                          "axis": {"orient": "top", "values": [0, 0.5, 1, 1.5, 2], "labels": false, "title": null}}}},
      {"data": {"values": [{"v": 0}]}, "mark": {"type": "rule", "color": "#ff7070", "strokeDash": [6, 4], "strokeWidth": 1.5},
       "encoding": {"y": {"field": "v", "type": "quantitative", "scale": {"domain": [-0.03, 0.19], "nice": false, "zero": false},
                          "axis": {"orient": "right", "values": [-0.025, 0, 0.025, 0.05, 0.075, 0.1, 0.125, 0.15, 0.175], "labels": false, "title": null}}}},
      {"data": {"name": "c"}, "mark": {"type": "errorbar", "color": "#8a8a8a", "thickness": 1, "clip": true},
       "encoding": {"x": {"field": "p", "type": "quantitative", "scale": {"domain": [0, 2], "nice": false, "zero": false}, "axis": null},
                    "y": {"field": "v", "type": "quantitative", "scale": {"domain": [-0.03, 0.19], "nice": false, "zero": false}, "axis": null},
                    "yError": {"field": "e"}}},
      {"data": {"name": "c"}, "mark": {"type": "point", "filled": false, "color": "#0000ff", "strokeWidth": 1.8, "size": 38, "opacity": 1, "clip": true},
       "encoding": {"x": {"field": "p", "type": "quantitative", "scale": {"domain": [0, 2], "nice": false, "zero": false},
                          "axis": {"values": [0, 0.5, 1, 1.5, 2], "format": ".1f", "title": "Phase", "titleFontSize": 20, "titlePadding": 7, "labelFlush": true, "labelPadding": 8}},
                    "y": {"field": "v", "type": "quantitative", "scale": {"domain": [-0.03, 0.19], "nice": false, "zero": false},
                          "axis": {"values": [-0.025, 0, 0.025, 0.05, 0.075, 0.1, 0.125, 0.15, 0.175], "labelExpr": "abs(datum.value*20 - round(datum.value*20)) < 0.000001 && datum.value > -0.01 ? format(datum.value, '.2f') : ''", "labelPadding": 12, "titlePadding": 22, "title": "IBAT\u00a0\u00a0\u00a0(counts/cm²/s)"}}}},
      {"data": {"values": [{"p": 0.289, "v": 0.147, "v2": 0.177}, {"p": 1.289, "v": 0.147, "v2": 0.177}]}, "mark": {"type": "rule", "color": "#000", "strokeWidth": 1},
       "encoding": {"x": {"field": "p", "type": "quantitative", "scale": {"domain": [0, 2], "nice": false, "zero": false}, "axis": null},
                    "y": {"field": "v", "type": "quantitative", "scale": {"domain": [-0.03, 0.19], "nice": false, "zero": false}, "axis": null},
                    "y2": {"field": "v2"}}},
      {"data": {"values": [{"p": 0.289, "v": 0.180}, {"p": 1.289, "v": 0.180}]}, "mark": {"type": "point", "shape": "M-0.45,1L0,-1L0.45,1Z", "filled": true, "color": "#000", "size": 50, "opacity": 1},
       "encoding": {"x": {"field": "p", "type": "quantitative", "scale": {"domain": [0, 2], "nice": false, "zero": false}, "axis": null},
                    "y": {"field": "v", "type": "quantitative", "scale": {"domain": [-0.03, 0.19], "nice": false, "zero": false}, "axis": null}}},
      {"data": {"values": [{"p": 1.935, "v": 0.175, "t": "(c)"}]}, "mark": {"type": "text", "font": "Liberation Sans", "fontSize": 13, "color": "#000"},
       "encoding": {"x": {"field": "p", "type": "quantitative", "scale": {"domain": [0, 2], "nice": false, "zero": false}, "axis": null},
                    "y": {"field": "v", "type": "quantitative", "scale": {"domain": [-0.03, 0.19], "nice": false, "zero": false}, "axis": null},
                    "text": {"field": "t"}}}
    ]
  }
  ]
}
]
}
